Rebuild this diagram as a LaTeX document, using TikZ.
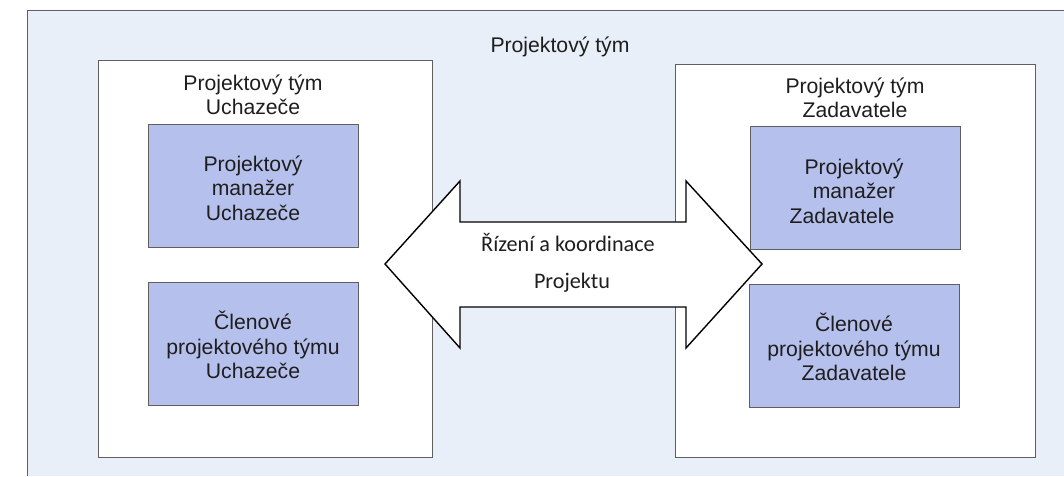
\documentclass[tikz,border=0pt]{standalone}
\usepackage{fontspec}
\setmainfont{Liberation Sans}
\newfontfamily\calfont{Carlito}
\definecolor{bgblue}{RGB}{233,239,249}
\definecolor{innerblue}{RGB}{182,192,236}
\definecolor{edgegrey}{RGB}{95,95,95}
\definecolor{inkc}{RGB}{30,30,30}
\begin{document}
\begin{tikzpicture}[x=1pt,y=-1pt,
  txt/.style={font=\fontsize{21.2}{24.5}\selectfont, align=center, text=inkc, inner sep=0pt},
  caltxt/.style={font=\calfont\fontsize{22.2}{26}\selectfont, text=inkc, inner sep=0pt},
  teambox/.style={draw=edgegrey, line width=0.9pt, fill=white, inner sep=0pt},
  rolebox/.style={draw=edgegrey, line width=0.7pt, fill=innerblue, inner sep=0pt,
                  minimum width=210pt, minimum height=123pt},
  arrowshape/.style={draw=black, line width=1.4pt, fill=white, line join=miter}]
\useasboundingbox (0,0) rectangle (1064,476);
% background sheet
\node[fill=bgblue, inner sep=0pt, minimum width=1037pt, minimum height=466pt, anchor=north west] (bg) at (27,10) {};
\draw[edgegrey, line width=0.8pt] (bg.south west) -- (bg.north west) -- (bg.north east);
% title
\node[txt] (title) at (560,47) {Projektový tým};
% team boxes
\node[teambox, minimum width=334pt, minimum height=397pt] (lteam) at (265,258.5) {};
\node[teambox, minimum width=360pt, minimum height=393pt] (rteam) at (855,260.5) {};
\node[txt] (lhead) at (253,95) {Projektový tým\\Uchazeče};
\node[txt] (rhead) at (855,98) {Projektový tým\\Zadavatele};
% role boxes
\node[rolebox] (lpm) at (253,185.5) {};
\node[rolebox] (lmem) at (253,343.5) {};
\node[rolebox] (rpm) at (855,187.5) {};
\node[rolebox] (rmem) at (854,345.5) {};
\node[txt] (lpmt) at (253,188) {Projektový\\manažer\\Uchazeče};
\node[txt] (lmemt) at (253,345) {Členové\\projektového týmu\\Uchazeče};
\node[txt] (rpmt) at (854,191) {Projektový\\manažer\\Zadavatele\hspace*{24pt}};
\node[txt] (rmemt) at (854,347) {Členové\\projektového týmu\\Zadavatele};
% double arrow
\draw[arrowshape] (385,264) -- (460,181) -- (460,222) -- (686,222) -- (686,181)
  -- (762,264) -- (686,348) -- (686,307) -- (460,307) -- (460,348) -- cycle;
\node[caltxt] (ctrl) at (568,242) {Řízení a koordinace};
\node[caltxt] (proj) at (572,283) {Projektu};
\end{tikzpicture}
\end{document}
